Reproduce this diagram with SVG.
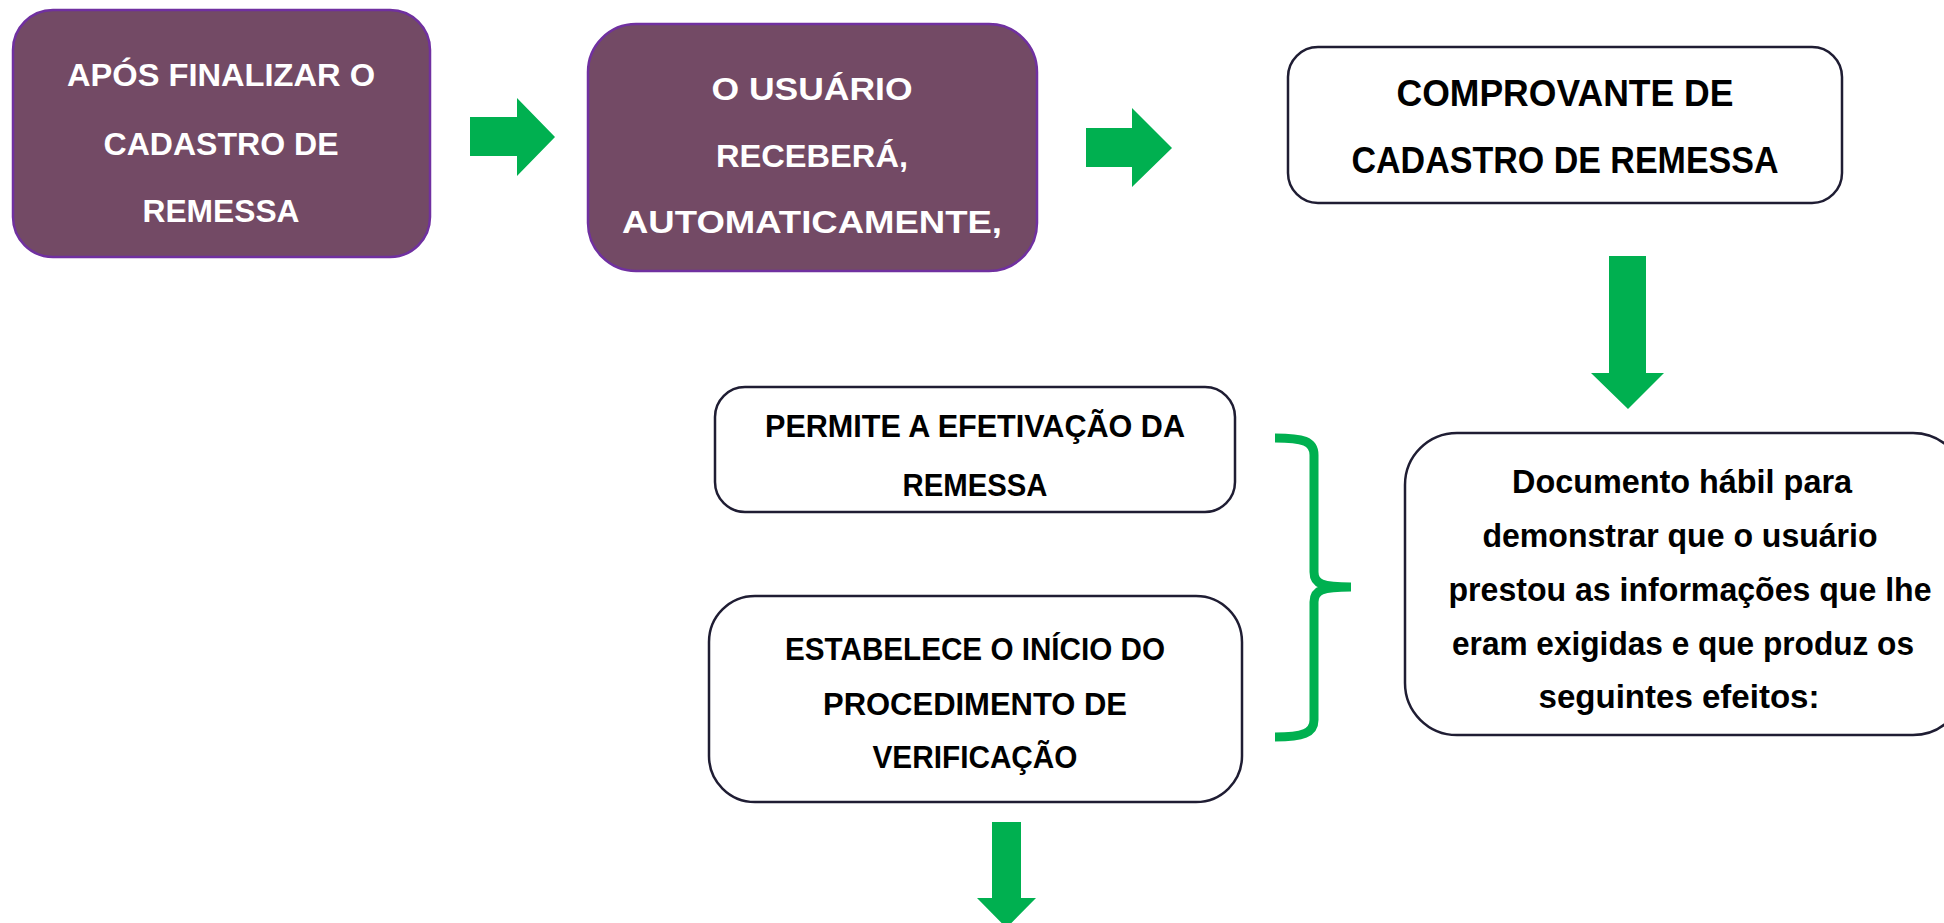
<svg xmlns="http://www.w3.org/2000/svg" width="1944" height="923" viewBox="0 0 1944 923">
<style>
.pbox{fill:#734A65;stroke:#7030A0;stroke-width:2.5}
.wbox{fill:#FFFFFF;stroke:#1F1D33;stroke-width:2.5}
.t{font-family:"Liberation Sans",Arial,sans-serif;font-weight:bold;text-anchor:middle}
.tw{fill:#FFFFFF}
.tb{fill:#000000}
.arrow{fill:#00B050}
.brace{fill:none;stroke:#00B050;stroke-width:9}
</style>
<rect width="1944" height="923" fill="#FFFFFF"/>
<g id="connectors">
<polygon class="arrow" points="470,117 517,117 517,98 555,137 517,176 517,156 470,156"/>
<polygon class="arrow" points="1086,128 1132,128 1132,108 1172,148 1132,187 1132,167 1086,167"/>
<polygon class="arrow" points="1609,256 1646,256 1646,373 1664,373 1628,409 1591,373 1609,373"/>
<polygon class="arrow" points="992,822 1021,822 1021,898 1036,898 1006.5,928 977,898 992,898"/>
<path class="brace" d="M1275,438 C1303,438 1314,441 1314,455 L1314,572 C1314,584 1322,587 1351,587 C1322,587 1314,590 1314,602 L1314,720 C1314,733 1303,737 1275,737"/>
</g>
<g id="node-apos">
<rect class="pbox" x="13" y="10" width="417" height="247" rx="40"/>
<text class="t tw" font-size="32" x="221" y="86" textLength="308" lengthAdjust="spacingAndGlyphs">APÓS FINALIZAR O</text>
<text class="t tw" font-size="32" x="221" y="155" textLength="235" lengthAdjust="spacingAndGlyphs">CADASTRO DE</text>
<text class="t tw" font-size="32" x="221" y="222" textLength="157" lengthAdjust="spacingAndGlyphs">REMESSA</text>
</g>
<g id="node-usuario">
<rect class="pbox" x="588" y="24" width="449" height="247" rx="48"/>
<text class="t tw" font-size="31.5" x="812" y="100" textLength="201" lengthAdjust="spacingAndGlyphs">O USUÁRIO</text>
<text class="t tw" font-size="31.5" x="812" y="167" textLength="192" lengthAdjust="spacingAndGlyphs">RECEBERÁ,</text>
<text class="t tw" font-size="31.5" x="812" y="233" textLength="380" lengthAdjust="spacingAndGlyphs">AUTOMATICAMENTE,</text>
</g>
<g id="node-comprovante">
<rect class="wbox" x="1288" y="47" width="554" height="156" rx="30"/>
<text class="t tb" font-size="36" x="1565" y="106" textLength="337" lengthAdjust="spacingAndGlyphs">COMPROVANTE DE</text>
<text class="t tb" font-size="36" x="1565" y="173" textLength="427" lengthAdjust="spacingAndGlyphs">CADASTRO DE REMESSA</text>
</g>
<g id="node-permite">
<rect class="wbox" x="715" y="387" width="520" height="125" rx="30"/>
<text class="t tb" font-size="31" x="975" y="437" textLength="420" lengthAdjust="spacingAndGlyphs">PERMITE A EFETIVAÇÃO DA</text>
<text class="t tb" font-size="31" x="975" y="496" textLength="145" lengthAdjust="spacingAndGlyphs">REMESSA</text>
</g>
<g id="node-estabelece">
<rect class="wbox" x="709" y="596" width="533" height="206" rx="46"/>
<text class="t tb" font-size="30.5" x="975" y="660" textLength="380" lengthAdjust="spacingAndGlyphs">ESTABELECE O INÍCIO DO</text>
<text class="t tb" font-size="30.5" x="975" y="715" textLength="304" lengthAdjust="spacingAndGlyphs">PROCEDIMENTO DE</text>
<text class="t tb" font-size="30.5" x="975" y="768" textLength="205" lengthAdjust="spacingAndGlyphs">VERIFICAÇÃO</text>
</g>
<g id="node-documento">
<rect class="wbox" x="1405" y="433" width="560" height="302" rx="52"/>
<text class="t tb" font-size="33" x="1682" y="493" textLength="340" lengthAdjust="spacingAndGlyphs">Documento hábil para</text>
<text class="t tb" font-size="33" x="1680" y="547" textLength="395" lengthAdjust="spacingAndGlyphs">demonstrar que o usuário</text>
<text class="t tb" font-size="33" x="1690" y="601" textLength="483" lengthAdjust="spacingAndGlyphs">prestou as informações que lhe</text>
<text class="t tb" font-size="33" x="1683" y="655" textLength="462" lengthAdjust="spacingAndGlyphs">eram exigidas e que produz os</text>
<text class="t tb" font-size="33" x="1679" y="708" textLength="281" lengthAdjust="spacingAndGlyphs">seguintes efeitos:</text>
</g>
</svg>
